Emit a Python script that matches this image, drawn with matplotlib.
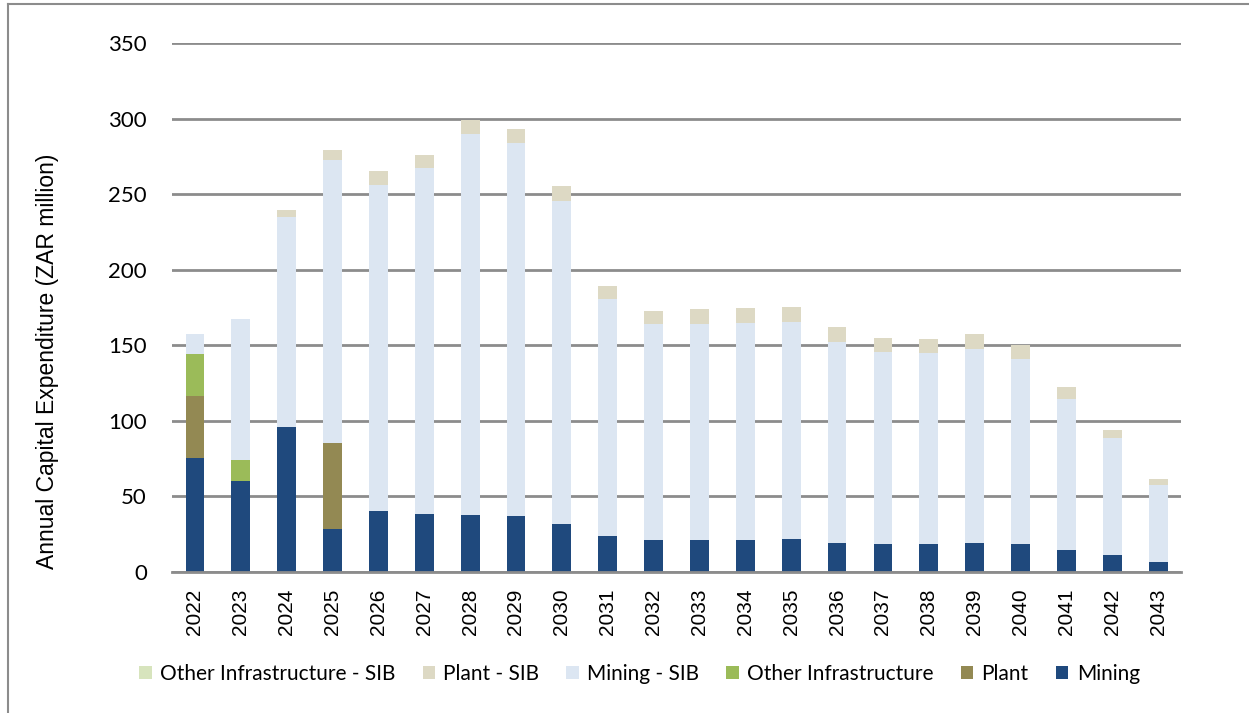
import matplotlib
matplotlib.use("Agg")
import matplotlib.pyplot as plt
import numpy as np
from matplotlib.lines import Line2D
from matplotlib.patches import Patch

plt.rcParams['font.family'] = ['Lato', 'DejaVu Sans']

years = [str(y) for y in range(2022, 2044)]

# Stacked components (ZAR million)
mining = [75.6, 60.2, 96.2, 28.2, 40.6, 38.4, 37.7, 37.0, 31.8, 23.8, 20.9,
          20.9, 20.9, 21.6, 19.4, 18.5, 18.5, 19.4, 18.5, 14.3, 11.0, 6.8]
plant = [40.9, 0, 0, 57.2, 0, 0, 0, 0, 0, 0, 0,
         0, 0, 0, 0, 0, 0, 0, 0, 0, 0, 0]
other_infra = [27.8, 13.9, 0, 0, 0, 0, 0, 0, 0, 0, 0,
               0, 0, 0, 0, 0, 0, 0, 0, 0, 0, 0]
mining_sib = [13.0, 93.1, 138.8, 187.3, 215.7, 228.8, 252.2, 246.5, 213.9, 156.7, 143.0,
              143.0, 144.1, 144.1, 133.0, 127.3, 126.7, 128.2, 122.5, 100.4, 77.7, 50.8]
plant_sib = [0, 0, 4.4, 6.6, 9.1, 8.8, 9.1, 9.7, 9.8, 9.0, 9.1,
             10.0, 9.7, 9.7, 10.0, 9.3, 9.0, 9.9, 9.0, 7.5, 5.1, 4.2]
other_infra_sib = [0] * 22

series = [
    ("Mining", mining, "#1F497D"),
    ("Plant", plant, "#938953"),
    ("Other Infrastructure", other_infra, "#9BBB59"),
    ("Mining - SIB", mining_sib, "#DCE6F2"),
    ("Plant - SIB", plant_sib, "#DDD9C4"),
    ("Other Infrastructure - SIB", other_infra_sib, "#D7E4BD"),
]

fig = plt.figure(figsize=(12.49, 7.13), dpi=100)
ax = fig.add_axes([0.1377, 0.1978, 0.8079, 0.7419])

x = np.arange(len(years))
bottom = np.zeros(len(years))
for name, vals, col in series:
    v = np.array(vals, dtype=float)
    ax.bar(x, v, width=0.41, bottom=bottom, color=col, edgecolor='none', zorder=3)
    bottom += v

ax.set_xlim(-0.5, len(years) - 0.5)
ax.set_ylim(0, 350)
ax.set_yticks(range(0, 351, 50))
ax.yaxis.grid(True, color='#8c8c8c', linewidth=2, zorder=0)
ax.set_axisbelow(True)
for s in ['top', 'right', 'left']:
    ax.spines[s].set_visible(False)
ax.spines['bottom'].set_color('#8c8c8c')
ax.spines['bottom'].set_linewidth(2)
ax.spines['bottom'].set_zorder(4)

ax.set_xticks(x)
ax.set_xticklabels(years, rotation=90, fontsize=15, color='#000000',
                   family=['Liberation Sans', 'DejaVu Sans'])
ax.tick_params(axis='both', length=0)
ax.tick_params(axis='y', labelsize=16, pad=18)
ax.tick_params(axis='x', pad=12)
ax.set_ylabel("Annual Capital Expenditure (ZAR million)", fontsize=16.5,
              family=['Liberation Sans', 'DejaVu Sans'])
ax.yaxis.set_label_coords(-0.112, 0.399)

handles = [Patch(facecolor=col, edgecolor='none', label=name)
           for name, vals, col in reversed(series)]
fig.legend(handles=handles, loc='center', bbox_to_anchor=(0.512, 0.055), ncol=6,
           frameon=False, fontsize=15, handlelength=0.6, handleheight=0.6,
           handletextpad=0.4, columnspacing=1.3)

# Outer frame
fig.add_artist(Line2D([8 / 1249, 8 / 1249], [0, 1 - 4 / 713], transform=fig.transFigure,
                      color='#8c8c8c', linewidth=1.5))
fig.add_artist(Line2D([8 / 1249, 1], [1 - 4 / 713, 1 - 4 / 713], transform=fig.transFigure,
                      color='#8c8c8c', linewidth=1.5))

fig.savefig("out.png", dpi=100)
